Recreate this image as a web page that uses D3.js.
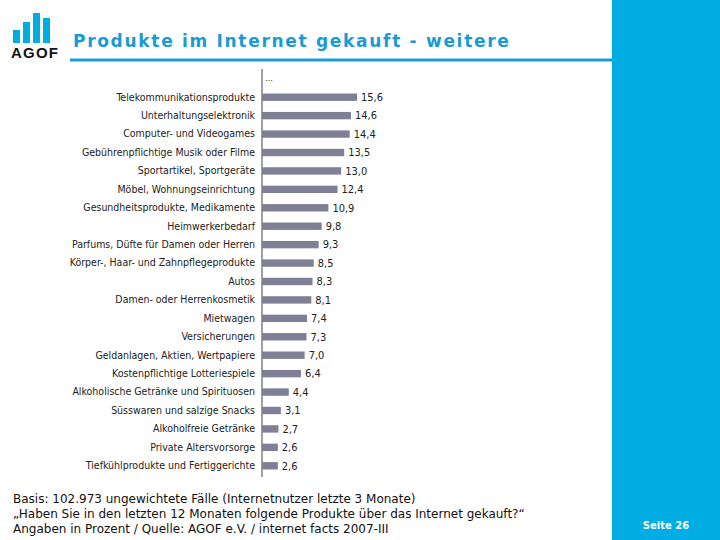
<!DOCTYPE html>
<html>
<head>
<meta charset="utf-8">
<script src="https://cdn.jsdelivr.net/npm/d3@7"></script>
<style>
  body { margin: 0; background: #fff; }
  svg { display: block; }
</style>
</head>
<body>
<svg id="chart"></svg>
<script>
// Kategorien und Werte (Angaben in Prozent)
const categories = [
  "Telekommunikationsprodukte",
  "Unterhaltungselektronik",
  "Computer- und Videogames",
  "Gebührenpflichtige Musik oder Filme",
  "Sportartikel, Sportgeräte",
  "Möbel, Wohnungseinrichtung",
  "Gesundheitsprodukte, Medikamente",
  "Heimwerkerbedarf",
  "Parfums, Düfte für Damen oder Herren",
  "Körper-, Haar- und Zahnpflegeprodukte",
  "Autos",
  "Damen- oder Herrenkosmetik",
  "Mietwagen",
  "Versicherungen",
  "Geldanlagen, Aktien, Wertpapiere",
  "Kostenpflichtige Lotteriespiele",
  "Alkoholische Getränke und Spirituosen",
  "Süsswaren und salzige Snacks",
  "Alkoholfreie Getränke",
  "Private Altersvorsorge",
  "Tiefkühlprodukte und Fertiggerichte"
];
const values = [15.6, 14.6, 14.4, 13.5, 13.0, 12.4, 10.9, 9.8, 9.3, 8.5, 8.3, 8.1, 7.4, 7.3, 7.0, 6.4, 4.4, 3.1, 2.7, 2.6, 2.6];

const title = "Produkte im Internet gekauft - weitere";
const footerLines = [
  "Basis: 102.973 ungewichtete Fälle (Internetnutzer letzte 3 Monate)",
  "„Haben Sie in den letzten 12 Monaten folgende Produkte über das Internet gekauft?“",
  "Angaben in Prozent / Quelle: AGOF e.V. / internet facts 2007-III"
];
const pageLabel = "Seite 26";

const width = 720;
const height = 540;
const blue = "#00ade2";
const titleBlue = "#1a9bd5";
const barColor = "#7f7f96";

const data = categories.map((c, i) => ({ name: c, value: values[i] }));

const svg = d3.select("#chart")
  .attr("width", width)
  .attr("height", height)
  .attr("viewBox", [0, 0, width, height]);

// Blauer Seitenbalken rechts
svg.append("rect")
  .attr("x", 612).attr("y", 0)
  .attr("width", width - 612).attr("height", height)
  .attr("fill", blue);

svg.append("text")
  .attr("x", 666).attr("y", 529)
  .attr("text-anchor", "middle")
  .attr("fill", "#fff")
  .attr("font-family", "Verdana, 'DejaVu Sans', sans-serif")
  .attr("font-weight", "bold")
  .attr("font-size", 10)
  .text(pageLabel);

// AGOF Logo
const logoBars = [
  { x: 13, top: 30 },
  { x: 23, top: 22 },
  { x: 33, top: 13 },
  { x: 43, top: 18 }
];
svg.append("g").selectAll("rect")
  .data(logoBars)
  .join("rect")
  .attr("x", d => d.x)
  .attr("y", d => d.top)
  .attr("width", 7)
  .attr("height", d => 43 - d.top)
  .attr("fill", blue);

svg.append("text")
  .attr("x", 11).attr("y", 58)
  .attr("font-family", "'Liberation Sans', Arial, sans-serif")
  .attr("font-weight", "bold")
  .attr("font-size", 15)
  .attr("letter-spacing", 1.2)
  .attr("fill", "#111")
  .text("AGOF");

// Titel und Linie
svg.append("text")
  .attr("x", 73).attr("y", 47)
  .attr("font-family", "Verdana, 'DejaVu Sans', sans-serif")
  .attr("font-weight", "bold")
  .attr("font-size", 17)
  .attr("letter-spacing", 1.7)
  .attr("fill", titleBlue)
  .text(title);

svg.append("line")
  .attr("x1", 70).attr("x2", 612)
  .attr("y1", 60).attr("y2", 60)
  .attr("stroke", titleBlue)
  .attr("stroke-width", 3);

// Scales
const x0 = 262;
const x = d3.scaleLinear([0, 15.6], [x0, 357]);
const y = d3.scaleBand(categories, [88, 475]).paddingInner(0.6).paddingOuter(0.3);

// Balken
svg.append("g")
  .selectAll("rect")
  .data(data)
  .join("rect")
  .attr("x", x(0))
  .attr("y", d => y(d.name))
  .attr("width", d => x(d.value) - x(0))
  .attr("height", y.bandwidth())
  .attr("fill", barColor);

// Werte
const fmt = d3.format(".1f");
svg.append("g")
  .selectAll("text")
  .data(data)
  .join("text")
  .attr("x", d => x(d.value) + 4)
  .attr("y", d => y(d.name) + y.bandwidth() / 2)
  .attr("dy", "0.35em")
  .attr("font-family", "Tahoma, 'DejaVu Sans Condensed', sans-serif")
  .attr("font-size", 11)
  .attr("fill", "#222")
  .text(d => fmt(d.value).replace(".", ","));

// Kategorie-Achse
svg.append("g")
  .attr("transform", `translate(${x0},0)`)
  .call(d3.axisLeft(y).tickSize(0).tickPadding(7))
  .call(g => g.select(".domain").remove())
  .call(g => g.selectAll("text")
    .attr("font-family", "Tahoma, 'DejaVu Sans Condensed', sans-serif")
    .attr("font-size", 10.5)
    .attr("fill", "#222"));

svg.append("line")
  .attr("x1", x0).attr("x2", x0)
  .attr("y1", 69).attr("y2", 477)
  .attr("stroke", "#808080")
  .attr("stroke-width", 1.5);

svg.append("text")
  .attr("x", 265).attr("y", 81)
  .attr("font-family", "'DejaVu Sans', sans-serif")
  .attr("font-size", 8)
  .attr("fill", "#222")
  .text("…");

// Fußnote
svg.append("g")
  .selectAll("text")
  .data(footerLines)
  .join("text")
  .attr("x", 13)
  .attr("y", (d, i) => 503 + i * 15)
  .attr("font-family", "Tahoma, 'DejaVu Sans', sans-serif")
  .attr("font-size", 12)
  .attr("fill", "#111")
  .text(d => d);
</script>
</body>
</html>
